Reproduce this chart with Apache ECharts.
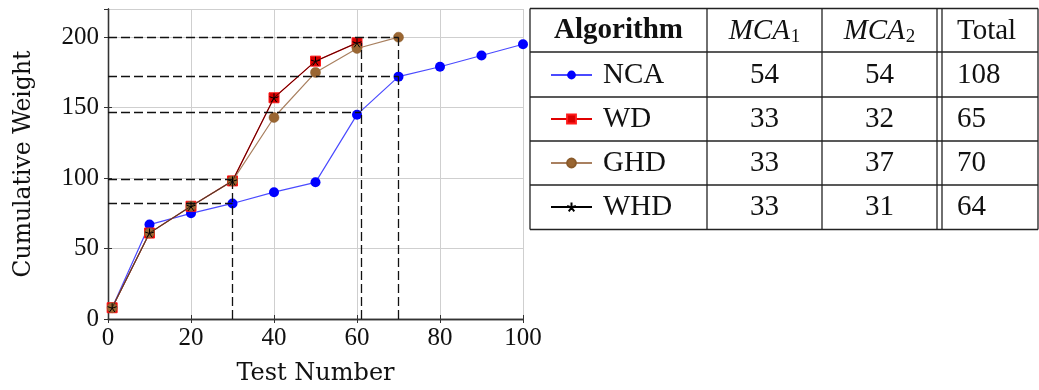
<!DOCTYPE html>
<html>
<head>
<meta charset="utf-8">
<script src="https://cdn.jsdelivr.net/npm/echarts@6/dist/echarts.min.js"></script>
<style>
html,body{margin:0;padding:0;background:#fff;}
#chart{width:1039px;height:390px;}
</style>
</head>
<body>
<div id="chart"></div>
<script>
// ---- data ----
const xTicks = [0, 20, 40, 60, 80, 100];
const yTicks = [0, 50, 100, 150, 200];
const ncaX = [1, 10, 20, 30, 40, 50, 60, 70, 80, 90, 100];
const ncaY = [8, 67, 75, 82, 90, 97, 145, 172, 179, 187, 195];
const wdX = [1, 10, 20, 30, 40, 50, 60];
const wdY = [8, 61, 80, 98, 157, 183, 196];
const ghdX = [1, 10, 20, 30, 40, 50, 60, 70];
const ghdY = [8, 61, 80, 98, 143, 175, 192, 200];
const whdX = [1, 10, 20, 30, 40, 50, 60];
const whdY = [8, 61, 80, 98, 157, 183, 196];
// dashed guides: horizontal [y, x0, x1], vertical [x, y0, y1]
const guideH = [[200, 0, 70], [172, 0, 70], [147, 0, 61], [99, 0, 30], [82, 0, 30]];
const guideV = [[30, 0, 98], [61, 0, 196], [70, 0, 200]];
// table
const algorithms = ['NCA', 'WD', 'GHD', 'WHD'];
const mca1 = [54, 33, 33, 33];
const mca2 = [54, 32, 37, 31];
const totals = [108, 65, 70, 64];

const pairs = (xs, ys) => xs.map((x, i) => [x, ys[i]]);
const SERIF = 'Liberation Serif';
const starPath = 'path://M0,-10L0,0M9.5,-3.1L0,0M5.9,8.1L0,0M-5.9,8.1L0,0M-9.5,-3.1L0,0';

const guideData = [];
guideH.forEach(g => guideData.push([{coord: [g[1], g[0]]}, {coord: [g[2], g[0]]}]));
guideV.forEach(g => guideData.push([{coord: [g[0], g[1]]}, {coord: [g[0], g[2]]}]));

// table graphics
const T = {x0: 530, x1: 1038, cols: [530, 707, 822, 937, 942, 1038], rows: [8.5, 52, 97, 141, 185, 229.5]};
const graphics = [];
T.rows.forEach(y => graphics.push({type: 'line', shape: {x1: T.x0, y1: y, x2: T.x1, y2: y}, style: {stroke: '#222', lineWidth: 1.3}, silent: true}));
T.cols.forEach(x => graphics.push({type: 'line', shape: {x1: x, y1: T.rows[0], x2: x, y2: T.rows[5]}, style: {stroke: '#222', lineWidth: 1.3}, silent: true}));
const txt = (text, x, y, align, extra) => Object.assign({
  type: 'text', x: x, y: y, silent: true,
  style: Object.assign({text: text, fill: '#111', font: '29px "' + SERIF + '"', align: align, verticalAlign: 'middle'}, extra || {})
});
graphics.push(txt('Algorithm', 618.5, 31, 'center', {font: 'bold 29px "' + SERIF + '"'}));
const mcaRich = {
  i: {fontFamily: SERIF, fontStyle: 'italic', fontSize: 29, fill: '#111'},
  s: {fontFamily: SERIF, fontSize: 19, fill: '#111', padding: [12, 0, 0, 1]}
};
graphics.push({type: 'text', x: 764.5, y: 31, silent: true, style: {text: '{i|MCA}{s|1}', rich: mcaRich, align: 'center', verticalAlign: 'middle'}});
graphics.push({type: 'text', x: 879.5, y: 31, silent: true, style: {text: '{i|MCA}{s|2}', rich: mcaRich, align: 'center', verticalAlign: 'middle'}});
graphics.push(txt('Total', 957, 31, 'left'));
const rowCenters = [75, 119.5, 163.5, 207.5];
algorithms.forEach((a, i) => {
  graphics.push(txt(String(mca1[i]), 764.5, rowCenters[i], 'center'));
  graphics.push(txt(String(mca2[i]), 879.5, rowCenters[i], 'center'));
  graphics.push(txt(String(totals[i]), 957, rowCenters[i], 'left'));
});

const chart = echarts.init(document.getElementById('chart'), null, {renderer: 'canvas'});
const axisLineStyle = {color: '#333', width: 1.3};
chart.setOption({
  animation: false,
  backgroundColor: '#fff',
  grid: {left: 108, right: 516, top: 9, bottom: 71, outerBoundsMode: 'none', containLabel: false},
  legend: {
    orient: 'vertical', left: 550, top: 60, padding: 0,
    itemWidth: 41, itemHeight: 11, itemGap: 14,
    selectedMode: false,
    data: [
      {name: 'NCA'}, {name: 'WD'}, {name: 'GHD'},
      {name: 'WHD', lineStyle: {color: '#000', opacity: 1}}
    ],
    textStyle: {fontFamily: SERIF, fontSize: 29, color: '#111', lineHeight: 30, padding: [0, 0, 0, 6]}
  },
  xAxis: [{
    type: 'value', min: 0, max: 100, interval: 20,
    name: 'Test Number', nameLocation: 'middle', nameGap: 43,
    nameTextStyle: {fontFamily: 'DejaVu Serif', fontSize: 24, color: '#111'},
    axisLine: {show: true, lineStyle: axisLineStyle},
    axisTick: {show: true, inside: true, length: 4, lineStyle: {color: '#333'}},
    axisLabel: {fontFamily: SERIF, fontSize: 25, color: '#111', margin: 7},
    splitLine: {show: true, lineStyle: {color: '#cfcfcf', width: 1}}
  }, {
    type: 'value', min: 0, max: 100, interval: 20, position: 'top',
    axisLine: {show: true, lineStyle: axisLineStyle},
    axisTick: {show: true, inside: true, length: 4, lineStyle: {color: '#333'}},
    axisLabel: {show: false}, splitLine: {show: false}
  }],
  yAxis: [{
    type: 'value', min: 0, max: 220, interval: 50,
    name: 'Cumulative Weight', nameLocation: 'middle', nameGap: 72,
    nameTextStyle: {fontFamily: 'DejaVu Serif', fontSize: 23.5, color: '#111'},
    axisLine: {show: true, lineStyle: axisLineStyle},
    axisTick: {show: true, inside: true, length: 4, lineStyle: {color: '#333'}},
    axisLabel: {fontFamily: SERIF, fontSize: 25, color: '#111', margin: 9, showMaxLabel: false},
    splitLine: {show: true, lineStyle: {color: '#cfcfcf', width: 1}}
  }, {
    type: 'value', min: 0, max: 220, interval: 50, position: 'right',
    axisLine: {show: true, lineStyle: axisLineStyle},
    axisTick: {show: true, inside: true, length: 4, lineStyle: {color: '#333'}},
    axisLabel: {show: false}, splitLine: {show: false}
  }],
  series: [{
    name: 'NCA', type: 'line', data: pairs(ncaX, ncaY),
    symbol: 'circle', symbolSize: 10,
    itemStyle: {color: '#0000ff'},
    lineStyle: {color: '#4a4aff', width: 1.2},
    markLine: {
      silent: true, symbol: 'none', label: {show: false},
      lineStyle: {color: '#111', type: [9, 4], width: 1.3},
      emphasis: {disabled: true},
      data: guideData
    },
    z: 2
  }, {
    name: 'WD', type: 'line', data: pairs(wdX, wdY),
    symbol: 'rect', symbolSize: 10,
    itemStyle: {color: '#d80000', borderColor: '#ff1a1a', borderWidth: 1},
    lineStyle: {color: '#e00000', width: 1.3},
    z: 3
  }, {
    name: 'GHD', type: 'line', data: pairs(ghdX, ghdY),
    symbol: 'circle', symbolSize: 10,
    itemStyle: {color: '#9a6632', borderColor: '#8a5a2a', borderWidth: 0.5},
    lineStyle: {color: '#a98060', width: 1.2},
    z: 4
  }, {
    name: 'WHD', type: 'line', data: pairs(whdX, whdY),
    symbol: starPath, symbolSize: 9,
    itemStyle: {color: 'transparent', borderColor: '#000', borderWidth: 1},
    lineStyle: {color: '#000', width: 1, opacity: 0.6},
    z: 5
  }],
  graphic: graphics
});
</script>
</body>
</html>
